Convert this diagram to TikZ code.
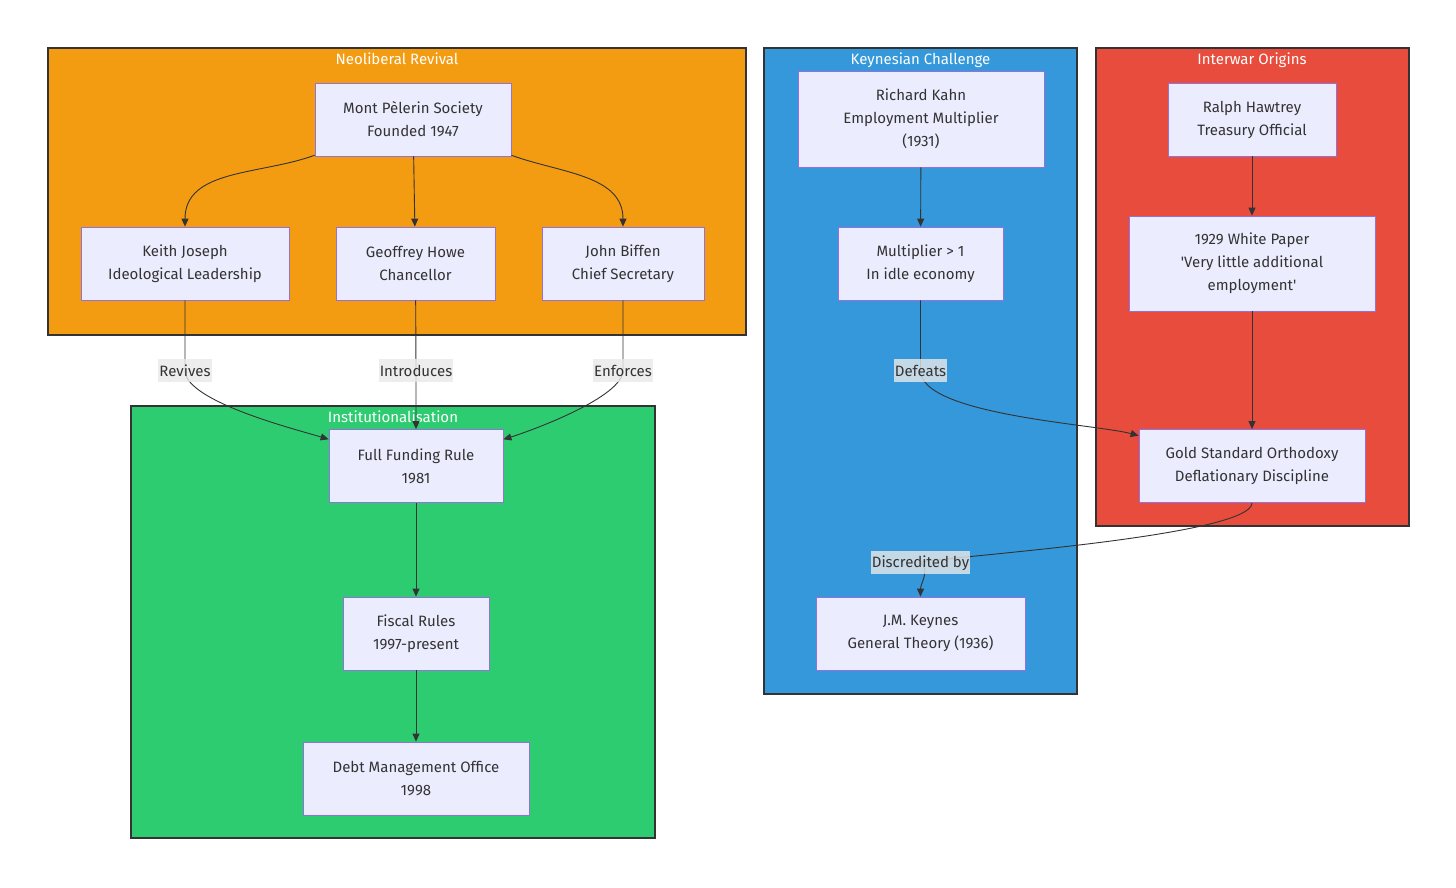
\documentclass[tikz,border=0pt]{standalone}
\usepackage{fontspec}
\setmainfont{Fira Sans}
\usetikzlibrary{arrows.meta}

\definecolor{neoorange}{HTML}{F39C12}
\definecolor{keyblue}{HTML}{3498DB}
\definecolor{warred}{HTML}{E74C3C}
\definecolor{instgreen}{HTML}{2ECC71}
\definecolor{nodefill}{HTML}{ECECFF}
\definecolor{nodeborder}{HTML}{9370DB}
\definecolor{linec}{HTML}{333333}
\definecolor{lblfill}{HTML}{E8E8E8}

\begin{document}
\begin{tikzpicture}
  [x=1pt,y=1pt,
   box/.style={draw=nodeborder,fill=nodefill,line width=0.8pt,align=center,
     minimum height=73pt,inner sep=0pt,text=linec,font=\fontsize{15}{23}\selectfont},
   group/.style={draw=linec,line width=1.5pt},
   gtitle/.style={text=white,inner sep=0pt,text height=12.5pt,text depth=1.5pt,
     font=\fontsize{15}{17}\selectfont},
   elabel/.style={fill=lblfill,fill opacity=0.8,text opacity=1,text=linec,
     inner xsep=1pt,inner ysep=0pt,minimum height=23pt,text height=12.5pt,text depth=1.5pt,
     font=\fontsize{15}{17}\selectfont},
   arrow/.style={draw=linec,line width=0.9pt,-{Triangle[length=8pt,width=7pt]}}]
  \useasboundingbox (0,0) rectangle (1456,-887);

  % subgraphs
  \draw[group,fill=neoorange] (48,-48) rectangle (746,-335);
  \draw[group,fill=keyblue] (764,-48) rectangle (1077,-694);
  \draw[group,fill=warred] (1096,-48) rectangle (1409,-526);
  \draw[group,fill=instgreen] (131,-406) rectangle (655,-838);
  \node[gtitle] (tneo) at (397,-59) {Neoliberal Revival};
  \node[gtitle] (tkey) at (920.5,-59) {Keynesian Challenge};
  \node[gtitle] (twar) at (1252,-59) {Interwar Origins};
  \node[gtitle] (tins) at (393,-417) {Institutionalisation};

  % nodes
  \node[box,minimum width=196pt] (mps) at (413,-119.5) {Mont Pèlerin Society\\Founded 1947};
  \node[box,minimum width=208pt] (kj) at (185,-263.5) {Keith Joseph\\Ideological Leadership};
  \node[box,minimum width=159pt] (gh) at (415.5,-263.5) {Geoffrey Howe\\Chancellor};
  \node[box,minimum width=162pt] (jb) at (623,-263.5) {John Biffen\\Chief Secretary};
  \node[box,minimum width=174pt] (ffr) at (416,-466) {Full Funding Rule\\1981};
  \node[box,minimum width=146pt] (fr) at (416,-633.5) {Fiscal Rules\\1997-present};
  \node[box,minimum width=226pt] (dmo) at (416,-778.5) {Debt Management Office\\1998};
  \node[box,minimum width=246pt,minimum height=96pt] (rk) at (921,-119) {Richard Kahn\\Employment Multiplier\\(1931)};
  \node[box,minimum width=165pt] (mult) at (920.5,-263.5) {Multiplier > 1\\In idle economy};
  \node[box,minimum width=209pt] (jmk) at (920.5,-633.5) {J.M. Keynes\\General Theory (1936)};
  \node[box,minimum width=168pt] (rh) at (1252,-119.5) {Ralph Hawtrey\\Treasury Official};
  \node[box,minimum width=246pt,minimum height=95pt] (wp) at (1252,-263.5) {1929 White Paper\\\textquotesingle Very little additional\\employment\textquotesingle};
  \node[box,minimum width=226pt] (gso) at (1252,-466) {Gold Standard Orthodoxy\\Deflationary Discipline};

  % label points
  \coordinate (crev) at (185,-370.5);
  \coordinate (cint) at (416,-370.5);
  \coordinate (cenf) at (623,-370.5);
  \coordinate (cdef) at (920.5,-370.5);
  \coordinate (cdis) at (920.5,-562);

  % edges
  \draw[arrow] (mps) to[out=200,in=90] (kj);
  \draw[arrow] (mps) -- (gh);
  \draw[arrow] (mps) to[out=-20,in=90] (jb);
  \draw[arrow] (kj) -- (crev) to[out=-90,in=163,looseness=0.5] (ffr);
  \draw[arrow] (gh) -- (cint) -- (ffr);
  \draw[arrow] (jb) -- (cenf) to[out=-90,in=17,looseness=0.5] (ffr);
  \draw[arrow] (ffr) -- (fr);
  \draw[arrow] (fr) -- (dmo);
  \draw[arrow] (rk) -- (mult);
  \draw[arrow] (mult) -- (cdef) to[out=-90,in=165,looseness=0.5] (gso);
  \draw[arrow] (rh) -- (wp);
  \draw[arrow] (wp) -- (gso);
  \draw[arrow] (gso) to[out=-90,in=10,looseness=0.25] (cdis) to[out=-45,in=90] (jmk);

  % edge labels
  \node[elabel] (lrev) at (crev) {Revives};
  \node[elabel] (lint) at (cint) {Introduces};
  \node[elabel] (lenf) at (cenf) {Enforces};
  \node[elabel] (ldef) at (cdef) {Defeats};
  \node[elabel] (ldis) at (cdis) {Discredited by};

\end{tikzpicture}
\end{document}
